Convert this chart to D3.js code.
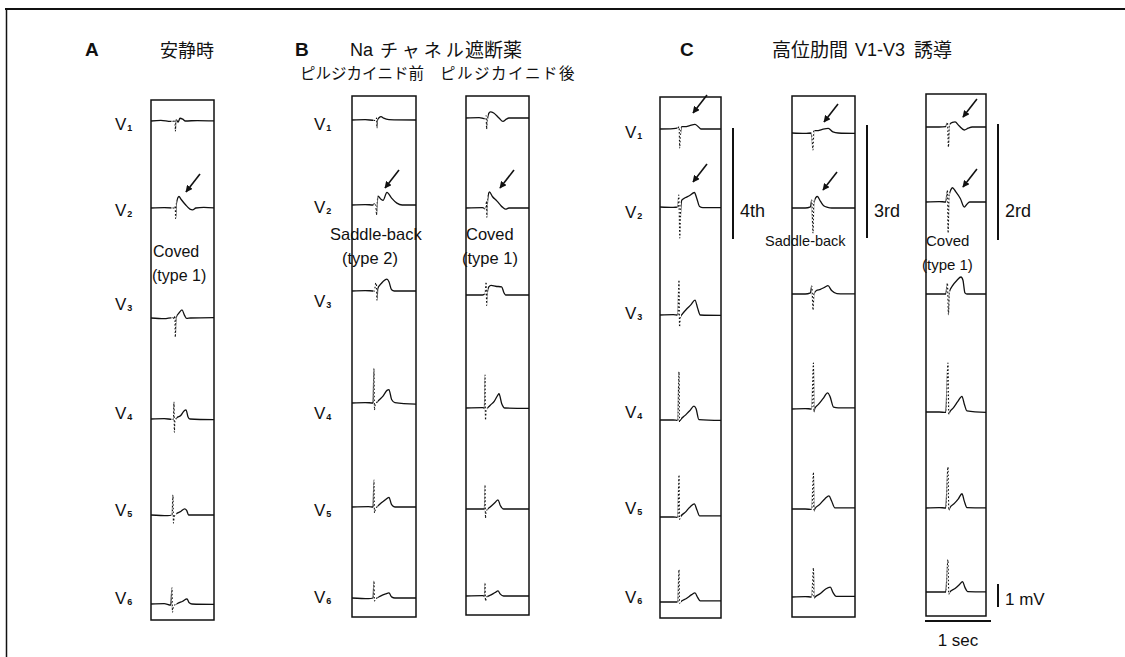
<!DOCTYPE html>
<html>
<head>
<meta charset="utf-8">
<script src="https://cdn.jsdelivr.net/npm/d3@7"></script>
<style>
  body { margin: 0; background: #fff; }
  svg { display: block; }
  .lat { font-family: "Liberation Sans", Arial, sans-serif; fill: #111; }
  .jp { font-family: "Noto Sans CJK JP", sans-serif; fill: #111; }
</style>
</head>
<body>
<svg id="chart" width="1125" height="657"></svg>
<script>
// lead names V1..V6
const leadNames = ["1", "2", "3", "4", "5", "6"];

// traces: [time ms, amplitude mV], one array per lead V1..V6
const restA = [
  [[0,0],[150,0.03],[300,-0.02],[350,0],[362,0.05],[366,-0.2],[370,-0.45],[376,0],[385,0.05],[410,-0.05],[440,0.12],[480,0.08],[520,0],[700,0.02],[990,0]],
  [[0,0],[200,0.02],[340,0],[360,-0.05],[368,0.1],[372,-0.45],[378,-0.3],[385,0.2],[424,0.5],[455,0.38],[520,0.15],[590,-0.05],[630,-0.08],[680,0],[800,0.03],[990,0]],
  [[0,0],[200,-0.03],[330,0.02],[350,-0.05],[362,0.1],[368,-0.83],[376,-0.2],[385,0.05],[420,0.2],[470,0.35],[510,0.1],[540,-0.02],[600,0],[990,0.02]],
  [[0,0],[200,0.02],[320,-0.02],[340,0],[348,0.74],[354,-0.57],[362,-0.1],[390,0.05],[450,0.15],[500,0.35],[530,0.4],[560,0.1],[590,0],[990,-0.03]],
  [[0,0],[250,-0.03],[320,0],[333,0.87],[340,-0.35],[350,-0.1],[380,0.05],[450,0.15],[510,0.27],[540,0.2],[570,0],[990,0]],
  [[0,0],[200,0.02],[300,-0.05],[318,0.7],[325,-0.35],[340,-0.1],[400,0.02],[480,0.12],[545,0.22],[580,0.05],[620,0],[990,-0.02]]
];
const prePilsicainide = [
  [[0,0],[200,0.02],[340,-0.02],[365,0],[372,0.08],[378,-0.35],[386,0],[410,0.1],[440,0.15],[480,0.08],[560,0.02],[990,0]],
  [[0,0],[200,0.02],[320,0],[345,0.08],[360,0],[372,-0.43],[380,0],[394,0.39],[440,0.25],[470,0.2],[530,0.55],[600,0.3],[680,0.08],[760,0],[990,0]],
  [[0,0],[200,0.02],[340,0],[360,0.35],[370,0.3],[378,-0.4],[390,0.1],[450,0.35],[530,0.52],[560,0.4],[600,0.05],[640,0],[990,0]],
  [[0,0],[200,0.02],[320,0],[333,1.5],[340,-0.3],[350,-0.1],[400,0.1],[470,0.3],[530,0.55],[560,0.58],[600,0.15],[650,0.02],[990,-0.05]],
  [[0,0],[250,0.02],[320,0],[333,1.17],[340,-0.26],[355,-0.1],[420,0.12],[500,0.3],[560,0.42],[600,0.1],[650,0],[990,0]],
  [[0,0],[250,-0.03],[320,0],[333,0.74],[340,-0.13],[360,-0.05],[430,0.08],[510,0.18],[560,0.22],[600,0.05],[650,0],[990,0]]
];
const postPilsicainide = [
  [[0,0],[200,0.02],[290,-0.03],[305,0.1],[312,-0.48],[322,-0.1],[345,0.2],[370,0.27],[420,0.22],[500,0],[560,-0.15],[610,-0.05],[650,0],[990,0]],
  [[0,0],[250,0.02],[300,-0.05],[310,0.3],[316,-0.4],[322,0.1],[340,0.6],[355,0.7],[400,0.5],[470,0.3],[530,0.1],[560,0.02],[600,-0.05],[650,0],[990,0]],
  [[0,0],[250,0],[290,0.05],[305,0.57],[313,-0.45],[322,0.1],[345,0.35],[380,0.42],[450,0.38],[540,0.35],[575,0.1],[600,0],[990,0]],
  [[0,0],[250,0.02],[280,0],[288,1.43],[295,-0.52],[305,-0.1],[360,0.1],[430,0.3],[480,0.55],[500,0.62],[540,0.2],[590,0],[990,-0.02]],
  [[0,0],[250,0],[280,0],[288,1.04],[295,-0.39],[305,-0.1],[370,0.1],[440,0.28],[485,0.4],[520,0.15],[570,0],[990,0]],
  [[0,0],[250,0.02],[280,0],[288,0.57],[295,-0.22],[310,-0.05],[380,0.05],[440,0.15],[485,0.22],[520,0.08],[570,0],[990,0]]
];
const icsFourth = [
  [[0,0],[200,0.02],[270,0.05],[290,0.1],[298,-0.83],[310,-0.2],[330,0.1],[380,0.1],[450,0.15],[530,0.2],[580,0.1],[620,0],[990,0]],
  [[0,0],[200,-0.02],[270,0],[285,0.52],[290,0],[300,-1.35],[312,-0.2],[330,0.3],[380,0.4],[450,0.5],[520,0.63],[560,0.35],[600,0.02],[650,-0.03],[990,-0.03]],
  [[0,0],[200,0.02],[270,0],[288,1.52],[296,-0.52],[308,-0.1],[340,0.05],[400,0.25],[470,0.45],[530,0.65],[570,0.3],[610,0],[990,-0.02]],
  [[0,0],[200,0],[270,-0.02],[288,2.1],[296,-0.1],[310,0],[380,0.2],[450,0.4],[515,0.6],[545,0.5],[590,0.02],[990,-0.02]],
  [[0,0],[200,0],[270,-0.02],[288,1.83],[296,-0.1],[310,0],[380,0.2],[460,0.45],[520,0.57],[560,0.3],[600,0.05],[990,0.05]],
  [[0,0],[200,0],[270,0],[288,1.4],[296,-0.05],[310,0],[400,0.15],[480,0.32],[530,0.4],[570,0.2],[610,0.05],[990,0.05]]
];
const icsThird = [
  [[0,0],[200,-0.02],[290,0],[305,-0.3],[318,-0.74],[330,0.1],[380,0.1],[450,0.15],[550,0.2],[620,0.05],[700,0],[990,-0.02]],
  [[0,0],[200,0],[280,0.05],[300,0.35],[308,-0.3],[318,-1.1],[330,0.2],[360,0.45],[385,0.5],[430,0.3],[480,0.1],[540,0.03],[600,0],[990,0]],
  [[0,0],[200,0],[280,0.05],[300,0.35],[308,0],[318,-0.7],[332,0],[370,0.15],[430,0.2],[500,0.3],[545,0.36],[600,0.15],[680,0.02],[990,0]],
  [[0,0],[200,0.02],[300,0],[325,2.0],[333,-0.13],[345,0.02],[400,0.2],[470,0.45],[540,0.7],[575,0.55],[630,0.08],[700,0.05],[990,0.05]],
  [[0,0],[200,0],[300,-0.02],[325,1.6],[333,-0.1],[345,0],[420,0.2],[500,0.45],[560,0.57],[600,0.35],[650,0.05],[990,0.05]],
  [[0,0],[200,0.02],[300,0],[325,1.26],[333,-0.05],[350,0],[430,0.15],[510,0.35],[580,0.43],[620,0.2],[670,0.03],[990,0.03]]
];
const icsSecond = [
  [[0,0],[200,0],[300,0.02],[325,0.2],[340,-0.87],[355,0.1],[400,0.2],[440,0.22],[500,0.05],[580,-0.13],[640,-0.05],[700,0],[990,0]],
  [[0,0],[200,0.02],[300,0],[325,0.52],[335,-1.35],[350,0.3],[380,0.55],[400,0.62],[450,0.45],[520,0.15],[580,-0.22],[620,-0.1],[660,0],[990,0]],
  [[0,0],[200,0],[300,0],[325,0.48],[340,-0.9],[355,0.1],[400,0.35],[470,0.6],[530,0.74],[560,0.6],[590,0.05],[620,0],[990,0]],
  [[0,0],[200,0],[300,-0.02],[333,2.13],[345,-0.1],[360,0],[420,0.2],[480,0.45],[545,0.68],[580,0.35],[620,0.05],[990,-0.03]],
  [[0,0],[200,0.02],[300,0],[333,1.78],[345,-0.1],[360,0],[430,0.2],[490,0.4],[545,0.62],[580,0.3],[620,0.02],[990,0]],
  [[0,0],[200,0],[300,0],[333,1.4],[345,-0.1],[360,0],[440,0.15],[500,0.3],[555,0.45],[590,0.2],[630,0.02],[990,0]]
];

// fast QRS part printed faintly (ms window per strip)
const qrsWindows = [[310,385],[325,385],[278,328],[265,318],[295,340],[310,360]];

// arrows: [strip, lead, ms, mV] at the arrow head
const arrowNotes = [[0,1,530,0.7],[1,1,500,0.74],[2,1,515,0.87],[3,0,500,0.7],[3,1,500,1.09],
                    [4,0,485,0.48],[4,1,470,0.78],[5,0,560,0.43],[5,1,560,0.65]];

const intercostal = ["4th", "3rd", "2rd"];

// ---- layout ----
const strips = [
  { data: restA,            box: [151, 100, 214, 620], base: [121, 208, 318, 419, 515, 604] },
  { data: prePilsicainide,  box: [352,  96, 416, 617], base: [120, 205, 291, 403, 507, 598] },
  { data: postPilsicainide, box: [466,  96, 529, 615], base: [118, 208, 295, 408, 509, 596] },
  { data: icsFourth,        box: [660,  97, 721, 618], base: [129, 207, 315, 420, 517, 602] },
  { data: icsThird,         box: [792,  96, 855, 617], base: [133, 208, 294, 409, 509, 597] },
  { data: icsSecond,        box: [926,  94, 986, 616], base: [127, 202, 294, 412, 508, 592] }
];
const leadLabels = [
  { x: 115, y: [130, 216, 310, 419, 516, 604] },
  { x: 314, y: [130, 213, 307, 419, 516, 603] },
  { x: 625, y: [138, 218, 319, 418, 514, 603] }
];

const svg = d3.select("#chart");
const ink = "#111";

// 1 sec = 66 px, 1 mV = 23 px
const x = d3.scaleLinear().domain([0, 1000]).range([0, 66]);
const y = d3.scaleLinear().domain([0, 1]).range([0, -23]);

const line = d3.line()
  .x(d => x(d[0]))
  .y(d => y(d[1]))
  .curve(d3.curveMonotoneX);

const defs = svg.append("defs");
defs.append("marker")
  .attr("id", "head")
  .attr("viewBox", "0 0 10 10")
  .attr("refX", 9).attr("refY", 5)
  .attr("markerWidth", 7).attr("markerHeight", 7)
  .attr("markerUnits", "userSpaceOnUse")
  .attr("orient", "auto")
  .append("path").attr("d", "M0,0L10,5L0,10z").attr("fill", ink);

// outer frame
svg.append("line").attr("x1", 5).attr("x2", 1125).attr("y1", 9).attr("y2", 9)
  .attr("stroke", ink).attr("stroke-width", 2);
svg.append("line").attr("x1", 6.5).attr("x2", 6.5).attr("y1", 9).attr("y2", 657)
  .attr("stroke", ink).attr("stroke-width", 1.5);

strips.forEach((s, i) => {
  const [l, t, r, b] = s.box;
  const w = r - l, h = b - t;
  const q = qrsWindows[i];
  const g = svg.append("g").attr("transform", "translate(" + l + ",0)");

  const cs = defs.append("clipPath").attr("id", "solid" + i);
  cs.append("rect").attr("x", 0).attr("y", t).attr("width", x(q[0])).attr("height", h);
  cs.append("rect").attr("x", x(q[1])).attr("y", t).attr("width", w - x(q[1])).attr("height", h);
  const cd = defs.append("clipPath").attr("id", "dash" + i);
  cd.append("rect").attr("x", x(q[0])).attr("y", t).attr("width", x(q[1]) - x(q[0])).attr("height", h);

  const solid = g.append("g").attr("clip-path", "url(#solid" + i + ")");
  const dash = g.append("g").attr("clip-path", "url(#dash" + i + ")");

  s.data.forEach((trace, k) => {
    solid.append("path")
      .attr("transform", "translate(0," + s.base[k] + ")")
      .attr("d", line(trace))
      .attr("fill", "none").attr("stroke", ink).attr("stroke-width", 1.3);
    dash.append("path")
      .attr("transform", "translate(0," + s.base[k] + ")")
      .attr("d", line(trace))
      .attr("fill", "none").attr("stroke", ink).attr("stroke-width", 1.1)
      .attr("stroke-dasharray", "1.6,2");
  });

  g.append("rect").attr("x", 0).attr("y", t).attr("width", w).attr("height", h)
    .attr("fill", "none").attr("stroke", ink).attr("stroke-width", 1.5);
});

// lead labels
leadLabels.forEach(p => {
  leadNames.forEach((n, k) => {
    const tx = svg.append("text").attr("class", "lat")
      .attr("x", p.x).attr("y", p.y[k]).attr("font-size", 17);
    tx.append("tspan").text("V");
    tx.append("tspan").attr("font-size", 9).attr("font-weight", 700).attr("dx", 1).attr("dy", 1).text(n);
  });
});

// arrows
arrowNotes.forEach(a => {
  const s = strips[a[0]];
  const hx = s.box[0] + x(a[2]);
  const hy = s.base[a[1]] + y(a[3]);
  svg.append("line")
    .attr("x1", hx + 14).attr("y1", hy - 18).attr("x2", hx).attr("y2", hy)
    .attr("stroke", ink).attr("stroke-width", 1.6)
    .attr("marker-end", "url(#head)");
});

// intercostal-space bars for V1-V3
const icsBars = [[733, 128, 239], [867, 125, 238], [998, 124, 240]];
icsBars.forEach((d, i) => {
  svg.append("line").attr("x1", d[0]).attr("x2", d[0]).attr("y1", d[1]).attr("y2", d[2])
    .attr("stroke", ink).attr("stroke-width", 2);
  svg.append("text").attr("class", "lat").attr("x", d[0] + 7).attr("y", 217)
    .attr("font-size", 18).text(intercostal[i]);
});

// calibration bars
const mvBase = 607;
svg.append("line").attr("x1", 998).attr("x2", 998).attr("y1", mvBase).attr("y2", mvBase + y(1))
  .attr("stroke", ink).attr("stroke-width", 2);
svg.append("text").attr("class", "lat").attr("x", 1005).attr("y", 605).attr("font-size", 17).text("1 mV");
svg.append("line").attr("x1", 925).attr("x2", 925 + x(1000)).attr("y1", 621).attr("y2", 621)
  .attr("stroke", ink).attr("stroke-width", 2);
svg.append("text").attr("class", "lat").attr("x", 958).attr("y", 646).attr("font-size", 17)
  .attr("text-anchor", "middle").text("1 sec");

// titles
const txt = (cls, xx, yy, size, s, weight) =>
  svg.append("text").attr("class", cls).attr("x", xx).attr("y", yy)
    .attr("font-size", size).attr("font-weight", weight || 400).text(s);

txt("lat", 85, 56, 19, "A", 700);
txt("jp", 160, 57, 18, "安静時");
txt("lat", 295, 56, 19, "B", 700);
txt("lat", 350, 56, 18, "Na");
txt("jp", 380, 57, 18, "チャネル").attr("letter-spacing", 4);
txt("jp", 465, 57, 19, "遮断薬");
txt("jp", 300, 79, 15.5, "ピルジカイニド前");
txt("jp", 440, 79, 15.5, "ピルジカイニド後").attr("letter-spacing", 1.5);
txt("lat", 680, 56, 19, "C", 700);
txt("jp", 772, 57, 19, "高位肋間");
txt("lat", 855, 56, 18, "V1-V3");
txt("jp", 914, 57, 19, "誘導");

// pattern notes
txt("lat", 153, 257, 16, "Coved");
txt("lat", 152, 281, 16, "(type 1)");
txt("lat", 330, 240, 16.5, "Saddle-back");
txt("lat", 342, 264, 16.5, "(type 2)");
txt("lat", 466, 240, 16.5, "Coved");
txt("lat", 462, 264, 16.5, "(type 1)");
txt("lat", 765, 246, 14.5, "Saddle-back");
txt("lat", 926, 246, 15, "Coved");
txt("lat", 922, 270, 15, "(type 1)");
</script>
</body>
</html>
